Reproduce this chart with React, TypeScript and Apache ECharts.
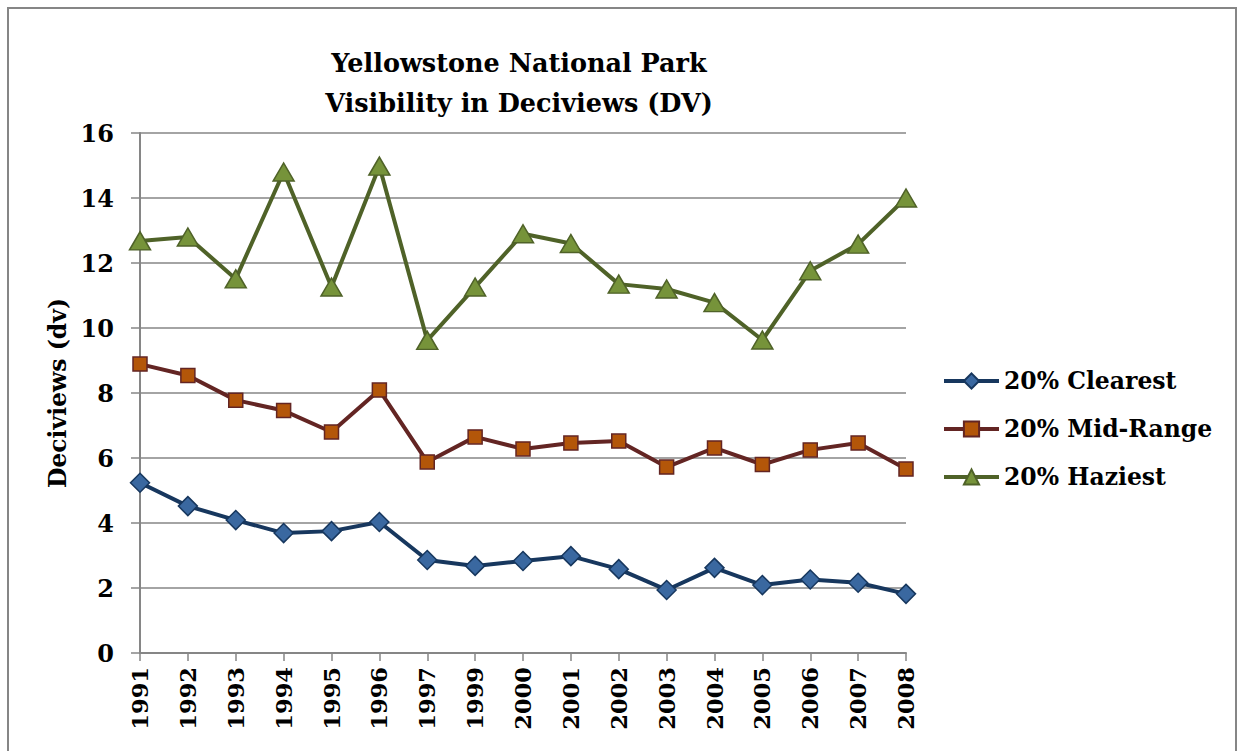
import React, { useEffect, useRef } from "react";
import * as echarts from "echarts";

const years = ["1991","1992","1993","1994","1995","1996","1997","1999","2000","2001","2002","2003","2004","2005","2006","2007","2008"];
const clearest = [5.24, 4.52, 4.09, 3.69, 3.75, 4.03, 2.86, 2.68, 2.83, 2.98, 2.58, 1.94, 2.62, 2.09, 2.26, 2.16, 1.82];
const midRange = [8.89, 8.54, 7.78, 7.46, 6.8, 8.09, 5.88, 6.65, 6.28, 6.46, 6.52, 5.72, 6.31, 5.8, 6.25, 6.46, 5.66];
const haziest = [12.68, 12.8, 11.51, 14.8, 11.26, 14.98, 9.62, 11.26, 12.9, 12.6, 11.35, 11.2, 10.78, 9.63, 11.76, 12.58, 14.0];
const yTicks = [0, 2, 4, 6, 8, 10, 12, 14, 16];

const FONT = "DejaVu Serif";

export default function App() {
  const ref = useRef<HTMLDivElement>(null);
  useEffect(() => {
    if (!ref.current) return;
    const chart = echarts.init(ref.current, null, { renderer: "svg" });
    const gray = "#868686";
    chart.setOption({
      animation: false,
      backgroundColor: "#ffffff",
      title: {
        text: "Yellowstone National Park\nVisibility in Deciviews (DV)",
        left: 505,
        top: 29,
        textAlign: "center",
        textStyle: { fontFamily: FONT, fontWeight: "bold", fontSize: 25.5, color: "#000", lineHeight: 40 },
      },
      legend: {
        orient: "vertical",
        left: 928,
        top: 355,
        itemWidth: 55,
        itemHeight: 19,
        itemGap: 24,
        lineStyle: { width: 4 },
        textStyle: { fontFamily: FONT, fontWeight: "bold", fontSize: 23.5, color: "#000" },
        data: ["20% Clearest", "20% Mid-Range", "20% Haziest"],
      },
      grid: { left: 131, right: 329, top: 124, height: 520 },
      xAxis: {
        type: "category",
        data: years,
        boundaryGap: false,
        axisLine: { lineStyle: { color: gray, width: 2 } },
        axisTick: { show: true, length: 8, lineStyle: { color: gray, width: 1.5 }, alignWithLabel: true },
        axisLabel: { rotate: 90, margin: 14, fontFamily: FONT, fontWeight: "bold", fontSize: 22.5, color: "#000", interval: 0 },
        splitLine: { show: false },
      },
      yAxis: {
        type: "value",
        min: 0,
        max: 16,
        interval: 2,
        name: "Deciviews (dv)",
        nameLocation: "middle",
        nameGap: 68,
        nameTextStyle: { fontFamily: FONT, fontWeight: "bold", fontSize: 23.5, color: "#000" },
        axisLine: { show: true, lineStyle: { color: gray, width: 2 } },
        axisTick: { show: true, length: 9, lineStyle: { color: gray, width: 1.5 } },
        axisLabel: {
          margin: 26,
          fontFamily: FONT,
          fontWeight: "bold",
          fontSize: 24,
          color: "#000",
          formatter: (v: number) => (yTicks.includes(v) ? String(v) : ""),
        },
        splitLine: { show: true, lineStyle: { color: gray, width: 1.5 } },
      },
      series: [
        {
          name: "20% Clearest",
          type: "line",
          data: clearest,
          symbol: "diamond",
          symbolSize: 19,
          lineStyle: { color: "#17375E", width: 4 },
          itemStyle: { color: "#3A68A0", borderColor: "#17375E", borderWidth: 1.5 },
          z: 3,
        },
        {
          name: "20% Mid-Range",
          type: "line",
          data: midRange,
          symbol: "rect",
          symbolSize: 14,
          lineStyle: { color: "#632523", width: 4 },
          itemStyle: { color: "#B35609", borderColor: "#632523", borderWidth: 1.5 },
          z: 3,
        },
        {
          name: "20% Haziest",
          type: "line",
          data: haziest,
          symbol: "triangle",
          symbolSize: [21, 18],
          lineStyle: { color: "#4F6228", width: 4 },
          itemStyle: { color: "#76933A", borderColor: "#4F6228", borderWidth: 1.5 },
          z: 3,
        },
      ],
    });
    return () => chart.dispose();
  }, []);
  return (
    <div
      style={{
        position: "absolute",
        left: 7,
        top: 7,
        width: 1226,
        height: 760,
        border: "2px solid #868686",
        overflow: "hidden",
        background: "#fff",
      }}
    >
      <div ref={ref} style={{ width: 1226, height: 760 }} />
    </div>
  );
}
